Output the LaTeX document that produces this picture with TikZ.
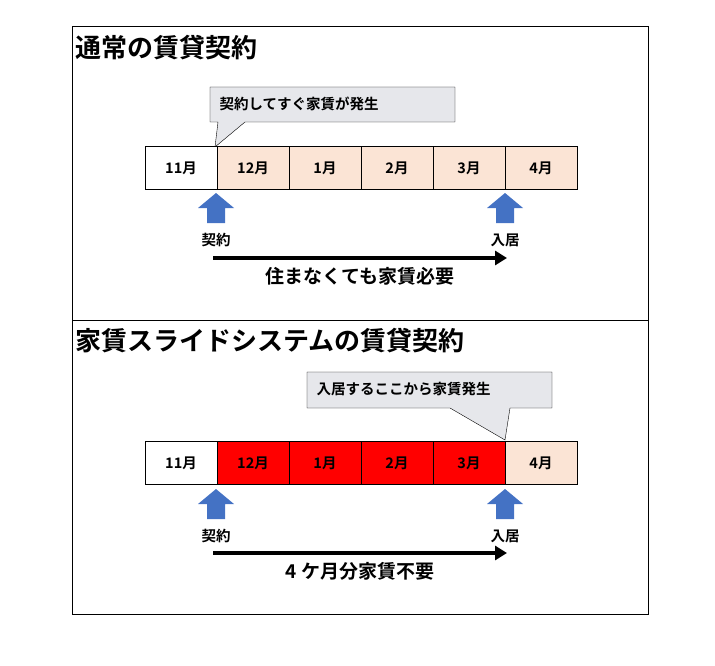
\documentclass[tikz,border=0pt]{standalone}
\usepackage{fontspec}
\setmainfont{Noto Sans CJK JP}[BoldFont={Noto Sans CJK JP Bold}]
\usetikzlibrary{positioning,calc,arrows.meta}
\definecolor{peach}{RGB}{251,228,213}
\definecolor{upblue}{RGB}{68,114,196}
\definecolor{calloutgray}{RGB}{230,231,235}
\tikzset{
  month/.style={draw, minimum width=72pt, minimum height=43pt, inner sep=0pt, font=\bfseries\fontsize{14.5}{16}\selectfont},
  title/.style={anchor=west, font=\bfseries\fontsize{26}{30}\selectfont},
  tag/.style={font=\bfseries\fontsize{14.5}{16}\selectfont},
  note/.style={font=\bfseries\fontsize{19}{22}\selectfont},
  callout/.style={draw, fill=calloutgray, thin},
  uparrow/.style={fill=upblue, draw=none},
  span/.style={-{Triangle[length=12pt,width=14pt]}, line width=4pt}
}
\newcommand{\uparr}[2]{\fill[uparrow] (#1-18,#2) -- (#1,#2-15) -- (#1+18,#2) -- (#1+9,#2) -- (#1+9,#2+15) -- (#1-9,#2+15) -- (#1-9,#2) -- cycle;}
\begin{document}
\begin{tikzpicture}[x=1pt,y=-1pt]
  \useasboundingbox (0,0) rectangle (715,666);
  \draw (72,26) rectangle (648,614);
  \draw (72,320) -- (648,320);
  % top panel
  \node[title] (t1) at (72,48) {通常の賃貸契約};
  \fill[callout] (210,87) -- (455,87) -- (455,122) -- (245,122) -- (215,147) -- (218,122) -- (210,122) -- cycle;
  \node[tag, anchor=west] (c1) at (216,104) {契約してすぐ家賃が発生};
  \foreach \m [count=\i from 0] in {11月,12月,1月,2月,3月,4月}{
    \ifnum\i=0 \def\col{white}\else\def\col{peach}\fi
    \node[month, fill=\col] (a\i) at (181+72*\i,168) {\m};
  }
  \uparr{216}{208}
  \uparr{505}{208}
  \node[tag] (k1) at (216,240) {契約};
  \node[tag] (n1) at (505,240) {入居};
  \coordinate (s1) at (213,258);
  \coordinate (e1) at (507,258);
  \draw[span] (s1) -- (e1);
  \node[note] (r1) at (360,276) {住まなくても家賃必要};
  % bottom panel
  \node[title] (t2) at (72,341) {家賃スライドシステムの賃貸契約};
  \fill[callout] (307,372) -- (552,372) -- (552,408) -- (510,408) -- (505,440) -- (450,408) -- (307,408) -- cycle;
  \node[tag, anchor=west] (c2) at (313,389) {入居するここから家賃発生};
  \foreach \m [count=\i from 0] in {11月,12月,1月,2月,3月,4月}{
    \ifnum\i=0 \def\col{white}\else\ifnum\i=5 \def\col{peach}\else\def\col{red}\fi\fi
    \node[month, fill=\col] (b\i) at (181+72*\i,463) {\m};
  }
  \uparr{216}{504}
  \uparr{505}{504}
  \node[tag] (k2) at (216,536) {契約};
  \node[tag] (n2) at (505,536) {入居};
  \coordinate (s2) at (213,553);
  \coordinate (e2) at (507,553);
  \draw[span] (s2) -- (e2);
  \node[note] (r2) at (360,571) {4 ケ月分家賃不要};
\end{tikzpicture}
\end{document}
